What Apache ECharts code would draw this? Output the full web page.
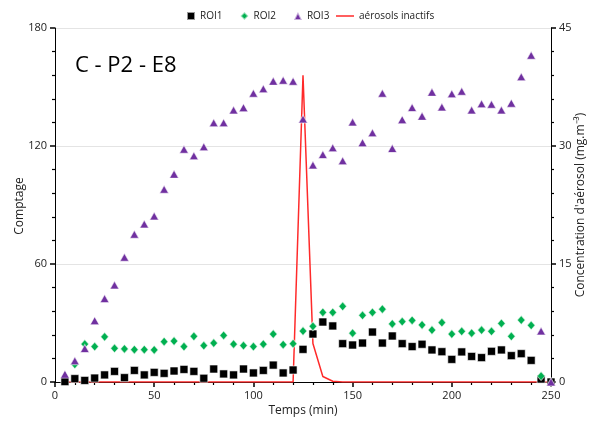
<!DOCTYPE html>
<html>
<head>
<meta charset="utf-8">
<script src="https://cdn.jsdelivr.net/npm/echarts@6/dist/echarts.min.js"></script>
<style>
  html, body { margin: 0; padding: 0; background: #fff; }
  #chart { width: 596px; height: 427px; }
</style>
</head>
<body>
<div id="chart"></div>
<script>
// temps (min), un point toutes les 5 min
const times = [5, 10, 15, 20, 25, 30, 35, 40, 45, 50, 55, 60, 65, 70, 75, 80, 85, 90, 95, 100,
  105, 110, 115, 120, 125, 130, 135, 140, 145, 150, 155, 160, 165, 170, 175, 180, 185, 190, 195, 200,
  205, 210, 215, 220, 225, 230, 235, 240, 245, 250]

const roi1 = [0.2, 1.7, 0.8, 2, 3.6, 5.4, 2.2, 5.9, 3.6, 4.9, 4.4, 5.6, 6.4, 5.4, 1.9, 6.6, 4.1, 3.6, 6.6, 4.6,
  5.9, 8.6, 4.6, 6.1, 16.6, 24.4, 30.5, 28.5, 19.5, 18.8, 19.8, 25.4, 19.8, 23.4, 19.5, 18, 19.2, 16.3, 15.4, 11.5,
  15.3, 13, 12.4, 15.6, 16.3, 13.4, 14.4, 11, 1.5, 0]

const roi2 = [null, 9, 19.3, 18, 23, 17.1, 16.8, 16.4, 16.4, 16.3, 20.5, 20.8, 18, 23.2, 18.5, 19.8, 23.7, 19.2, 18.5, 18,
  19.2, 24.4, 19, 19.5, 25.9, 28.3, 35.4, 35.4, 38.5, 24.8, 33.9, 35.4, 37, 29.5, 30.7, 31.3, 29, 26.4, 30.2, 24.4,
  25.8, 24.8, 26.4, 25.8, 29.8, 23.2, 31.5, 28.8, 3, null]

const roi3 = [4, 10.8, 17, 31.2, 42.4, 49.3, 63.4, 75.1, 80.3, 84.4, 98, 105.7, 118.3, 115, 119.6, 131.8, 131.8, 138.3, 139.5, 146.8,
  149.1, 153, 153.4, 152.9, 133.7, 110.3, 115.7, 119.1, 112.5, 132.2, 121.7, 126.7, 146.8, 118.8, 133.4, 139.6, 135.2, 147.4, 139.8, 146.6,
  147.8, 138.3, 141.5, 141.2, 138.3, 141.8, 155.2, 166.1, 25.9, 0]

// concentration d'aérosol (mg.m-3), axe de droite
const aerosol = [0, 0, 0, 0, 0, 0, 0, 0, 0, 0, 0, 0, 0, 0, 0, 0, 0, 0, 0, 0,
  0, 0, 0, 0, 39, 4.9, 0.7, 0.1, 0, 0, 0, 0, 0, 0, 0, 0, 0, 0, 0, 0,
  0, 0, 0, 0, 0, 0, 0, 0, 0, 0]

const pairs = (vals) => times.map((t, i) => [t, vals[i]]).filter(p => p[1] != null)

const txt = '#222'
const font = 'Open Sans'
const red = '#ff2a2a'

const chart = echarts.init(document.getElementById('chart'))

const tick = (len, w) => ({ show: true, length: len, lineStyle: { color: '#000', width: w } })
const minor = (len, w) => ({ show: true, splitNumber: 5, length: len, lineStyle: { color: '#000', width: w } })

// axis titles drawn as graphic text
const axisTitle = (text, x, y, rot) => ({
  type: 'text', x, y, rotation: rot,
  style: {
    text, fill: txt, font: `12px "${font}"`,
    align: 'center', verticalAlign: 'middle', textAlign: 'center', textVerticalAlign: 'middle',
  },
})

chart.setOption({
  animation: false,
  title: {
    text: 'C - P2 - E8', left: 70, top: 50,
    textStyle: { fontSize: 22, fontWeight: 'normal', color: '#000', fontFamily: font },
  },
  legend: [
    {
      data: [
        { name: 'ROI1', icon: 'rect' },
        { name: 'ROI2', icon: 'diamond' },
        { name: 'ROI3', icon: 'triangle' },
      ],
      left: 181, top: 6, itemWidth: 8, itemHeight: 8, itemGap: 17,
      textStyle: { color: txt, fontSize: 10, fontFamily: font },
    },
    {
      data: [{ name: 'aérosols inactifs', icon: 'rect' }],
      left: 331, top: 6, itemWidth: 18, itemHeight: 1.5, itemGap: 4,
      textStyle: { color: txt, fontSize: 10, fontFamily: font },
    },
  ],
  graphic: [
    axisTitle('Comptage', 20, 206, Math.PI / 2),
    axisTitle("Concentration d'aérosol (mg.m⁻³)", 581, 205, Math.PI / 2),
    axisTitle('Temps (min)', 303, 411, 0),
  ],
  grid: { left: 55, right: 45, top: 28, bottom: 45 },
  xAxis: {
    type: 'value', min: 0, max: 250, interval: 50,
    axisLine: { show: true, lineStyle: { color: '#000' } },
    axisTick: tick(5, 1.5),
    minorTick: minor(3, 1.2),
    axisLabel: { color: txt, fontSize: 11, fontFamily: font },
    splitLine: { show: false },
  },
  yAxis: [
    {
      type: 'value', min: 0, max: 180, interval: 60, position: 'left',
      axisLine: { show: true, lineStyle: { color: '#000' } },
      axisTick: tick(5, 1.5),
      minorTick: minor(3, 1.2),
      axisLabel: { color: txt, fontSize: 11, fontFamily: font },
      splitLine: { show: true, lineStyle: { color: '#e4e4e4' } },
    },
    {
      type: 'value', min: 0, max: 45, interval: 15, position: 'right',
      axisLine: { show: true, lineStyle: { color: '#000' } },
      axisTick: tick(5, 1.5),
      minorTick: minor(3, 1.2),
      axisLabel: { color: txt, fontSize: 11, fontFamily: font },
      splitLine: { show: false },
    },
  ],
  series: [
    {
      name: 'aérosols inactifs', type: 'line', yAxisIndex: 1, z: 1,
      data: pairs(aerosol), symbol: 'none',
      lineStyle: { color: red, width: 1.5 }, itemStyle: { color: red },
    },
    {
      name: 'ROI1', type: 'scatter', yAxisIndex: 0, z: 3,
      data: pairs(roi1), symbol: 'rect', symbolSize: 8,
      itemStyle: { color: '#000', opacity: 1, borderColor: 'rgba(255,255,255,0.6)', borderWidth: 1 },
    },
    {
      name: 'ROI2', type: 'scatter', yAxisIndex: 0, z: 4,
      data: pairs(roi2), symbol: 'diamond', symbolSize: [8, 9],
      itemStyle: { color: '#00b050', opacity: 1, borderColor: 'rgba(255,255,255,0.6)', borderWidth: 1 },
    },
    {
      name: 'ROI3', type: 'scatter', yAxisIndex: 0, z: 5,
      data: pairs(roi3), symbol: 'triangle', symbolSize: [9, 8],
      itemStyle: { color: '#7030a0', opacity: 1, borderColor: 'rgba(255,255,255,0.6)', borderWidth: 1 },
    },
  ],
})
</script>
</body>
</html>
